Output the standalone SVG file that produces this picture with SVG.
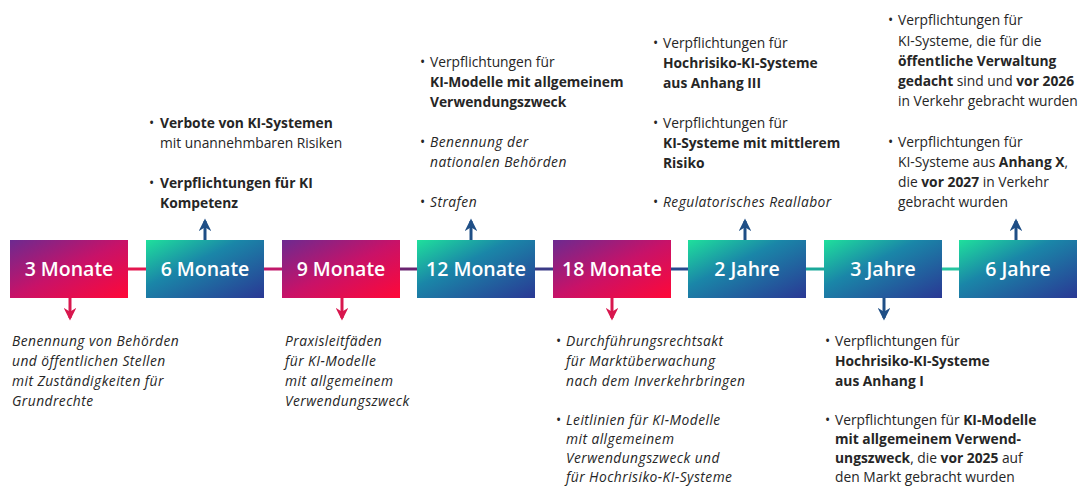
<svg xmlns="http://www.w3.org/2000/svg" width="1082" height="486" viewBox="0 0 1082 486">
<defs>
<linearGradient id="gM" x1="0" y1="0" x2="1" y2="1">
<stop offset="0" stop-color="#6c2a90"/>
<stop offset="0.5" stop-color="#c81268"/>
<stop offset="1" stop-color="#ff0838"/>
</linearGradient>
<linearGradient id="gB" x1="0" y1="0" x2="1" y2="1">
<stop offset="0" stop-color="#1fe09c"/>
<stop offset="0.4" stop-color="#1a86a8"/>
<stop offset="1" stop-color="#2a3894"/>
</linearGradient>
<marker id="aR" viewBox="0 0 10 10" refX="8" refY="5" markerWidth="4.2" markerHeight="4.2" orient="auto" markerUnits="strokeWidth">
<path d="M0,0 L10,5 L0,10 L3,5 z" fill="#d8174e"/>
</marker>
<marker id="aB" viewBox="0 0 10 10" refX="8" refY="5" markerWidth="4.2" markerHeight="4.2" orient="auto" markerUnits="strokeWidth">
<path d="M0,0 L10,5 L0,10 L3,5 z" fill="#1f4f86"/>
</marker>
</defs>
<style>
text{font-family:"Open Sans","Liberation Sans",sans-serif;font-size:13.8px;fill:#262626}
.b{font-weight:700}
.i{font-style:italic;letter-spacing:0.45px}
.lbl{font-size:19.5px;font-weight:600;fill:#fff;text-anchor:middle}
.cR{stroke:#d8174e;stroke-width:3;fill:none}
.cB{stroke:#1f4f86;stroke-width:3;fill:none}
</style>
<rect width="1082" height="486" fill="#fff"/>
<g id="connectors">
<line x1="128" y1="269" x2="146" y2="269" stroke="#e3174f" stroke-width="3"/>
<line x1="263" y1="269" x2="282" y2="269" stroke="#c0186a" stroke-width="3"/>
<line x1="399" y1="269" x2="417" y2="269" stroke="#6a2470" stroke-width="3"/>
<line x1="534" y1="269" x2="553" y2="269" stroke="#3a3a86" stroke-width="3"/>
<line x1="670" y1="269" x2="688" y2="269" stroke="#27498e" stroke-width="3"/>
<line x1="805" y1="269" x2="824" y2="269" stroke="#1aa89a" stroke-width="3"/>
<line x1="941" y1="269" x2="959" y2="269" stroke="#26c4a0" stroke-width="3"/>
<line class="cR" x1="70" y1="298" x2="70" y2="318" marker-end="url(#aR)"/>
<line class="cR" x1="342" y1="298" x2="342" y2="318" marker-end="url(#aR)"/>
<line class="cR" x1="612" y1="298" x2="612" y2="318" marker-end="url(#aR)"/>
<line class="cB" x1="884" y1="298" x2="884" y2="318" marker-end="url(#aB)"/>
<line class="cB" x1="205" y1="240" x2="205" y2="221" marker-end="url(#aB)"/>
<line class="cB" x1="471" y1="240" x2="471" y2="221" marker-end="url(#aB)"/>
<line class="cB" x1="745" y1="240" x2="745" y2="221" marker-end="url(#aB)"/>
<line class="cB" x1="1016" y1="240" x2="1016" y2="221" marker-end="url(#aB)"/>
</g>
<g id="n3m"><rect x="10" y="240" width="118" height="58" fill="url(#gM)"/><text class="lbl" x="69" y="276">3 Monate</text></g>
<g id="n6m"><rect x="146" y="240" width="118" height="58" fill="url(#gB)"/><text class="lbl" x="205" y="276">6 Monate</text></g>
<g id="n9m"><rect x="282" y="240" width="118" height="58" fill="url(#gM)"/><text class="lbl" x="341" y="276">9 Monate</text></g>
<g id="n12m"><rect x="417" y="240" width="118" height="58" fill="url(#gB)"/><text class="lbl" x="476" y="276">12 Monate</text></g>
<g id="n18m"><rect x="553" y="240" width="118" height="58" fill="url(#gM)"/><text class="lbl" x="612" y="276">18 Monate</text></g>
<g id="n2j"><rect x="688" y="240" width="118" height="58" fill="url(#gB)"/><text class="lbl" x="747" y="276">2 Jahre</text></g>
<g id="n3j"><rect x="824" y="240" width="118" height="58" fill="url(#gB)"/><text class="lbl" x="883" y="276">3 Jahre</text></g>
<g id="n6j"><rect x="959" y="240" width="118" height="58" fill="url(#gB)"/><text class="lbl" x="1018" y="276">6 Jahre</text></g>

<g id="t6m">
<text x="149" y="128">•</text><text x="160" y="128" class="b">Verbote von KI-Systemen</text>
<text x="160" y="148">mit unannehmbaren Risiken</text>
<text x="149" y="188">•</text><text x="160" y="188" class="b">Verpflichtungen für KI</text>
<text x="160" y="208" class="b">Kompetenz</text>
</g>
<g id="t12m">
<text x="420" y="67">•</text><text x="430" y="67">Verpflichtungen für</text>
<text x="430" y="87" class="b">KI-Modelle mit allgemeinem</text>
<text x="430" y="107" class="b">Verwendungszweck</text>
<text x="420" y="147">•</text><text x="430" y="147" class="i">Benennung der</text>
<text x="430" y="167" class="i">nationalen Behörden</text>
<text x="420" y="207">•</text><text x="430" y="207" class="i">Strafen</text>
</g>
<g id="t2j">
<text x="653" y="48">•</text><text x="663" y="48">Verpflichtungen für</text>
<text x="663" y="68" class="b">Hochrisiko-KI-Systeme</text>
<text x="663" y="88" class="b">aus Anhang III</text>
<text x="653" y="128">•</text><text x="663" y="128">Verpflichtungen für</text>
<text x="663" y="148" class="b">KI-Systeme mit mittlerem</text>
<text x="663" y="168" class="b">Risiko</text>
<text x="653" y="207">•</text><text x="663" y="207" class="i">Regulatorisches Reallabor</text>
</g>
<g id="t6j">
<text x="888" y="25">•</text><text x="898" y="25">Verpflichtungen für</text>
<text x="898" y="46">KI-Systeme, die für die</text>
<text x="898" y="66" class="b">öffentliche Verwaltung</text>
<text x="898" y="86"><tspan class="b">gedacht</tspan> sind und <tspan class="b">vor 2026</tspan></text>
<text x="898" y="106">in Verkehr gebracht wurden</text>
<text x="888" y="147">•</text><text x="898" y="147">Verpflichtungen für</text>
<text x="898" y="167">KI-Systeme aus <tspan class="b">Anhang X</tspan>,</text>
<text x="898" y="187">die <tspan class="b">vor 2027</tspan> in Verkehr</text>
<text x="898" y="207">gebracht wurden</text>
</g>
<g id="t3m">
<text x="12" y="346" class="i">Benennung von Behörden</text>
<text x="12" y="366" class="i">und öffentlichen Stellen</text>
<text x="12" y="386" class="i">mit Zuständigkeiten für</text>
<text x="12" y="406" class="i">Grundrechte</text>
</g>
<g id="t9m">
<text x="285" y="346" class="i">Praxisleitfäden</text>
<text x="285" y="366" class="i">für KI-Modelle</text>
<text x="285" y="386" class="i">mit allgemeinem</text>
<text x="285" y="406" class="i">Verwendungszweck</text>
</g>
<g id="t18m">
<text x="556" y="346">•</text><text x="566" y="346" class="i">Durchführungsrechtsakt</text>
<text x="566" y="366" class="i">für Marktüberwachung</text>
<text x="566" y="386" class="i">nach dem Inverkehrbringen</text>
<text x="556" y="425">•</text><text x="566" y="425" class="i">Leitlinien für KI-Modelle</text>
<text x="566" y="444" class="i">mit allgemeinem</text>
<text x="566" y="463" class="i">Verwendungszweck und</text>
<text x="566" y="482" class="i">für Hochrisiko-KI-Systeme</text>
</g>
<g id="t3j">
<text x="825" y="346">•</text><text x="835" y="346">Verpflichtungen für</text>
<text x="835" y="366" class="b">Hochrisiko-KI-Systeme</text>
<text x="835" y="386" class="b">aus Anhang I</text>
<text x="825" y="425">•</text><text x="835" y="425">Verpflichtungen für <tspan class="b">KI-Modelle</tspan></text>
<text x="835" y="444" class="b">mit allgemeinem Verwend-</text>
<text x="835" y="463"><tspan class="b">ungszweck</tspan>, die <tspan class="b">vor 2025</tspan> auf</text>
<text x="835" y="482">den Markt gebracht wurden</text>
</g>
</svg>
